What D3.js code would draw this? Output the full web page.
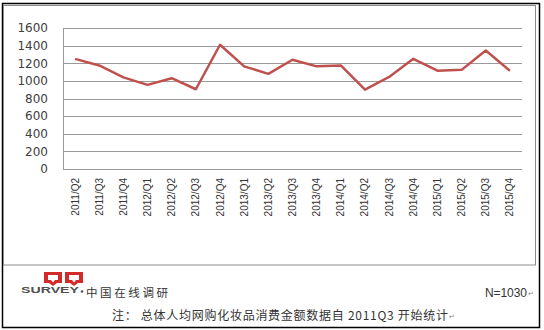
<!DOCTYPE html>
<html>
<head>
<meta charset="utf-8">
<script src="https://cdn.jsdelivr.net/npm/d3@7"></script>
<style>
  body { margin: 0; background: #fff; }
  svg { display: block; }
</style>
</head>
<body>
<svg id="chart" width="544" height="330"></svg>
<script>
var quarters = ["2011/Q2", "2011/Q3", "2011/Q4", "2012/Q1", "2012/Q2", "2012/Q3", "2012/Q4",
  "2013/Q1", "2013/Q2", "2013/Q3", "2013/Q4", "2014/Q1", "2014/Q2", "2014/Q3", "2014/Q4",
  "2015/Q1", "2015/Q2", "2015/Q3", "2015/Q4"];
var spending = [1250, 1175, 1040, 955, 1030, 905, 1410, 1165, 1080, 1240, 1165, 1175, 900, 1045,
  1250, 1115, 1125, 1345, 1115];
var yTicks = [0, 200, 400, 600, 800, 1000, 1200, 1400, 1600];

var svg = d3.select("#chart");

var margin = { top: 28, right: 22, bottom: 161, left: 63 },
  width = 544 - margin.left - margin.right,
  height = 330 - margin.top - margin.bottom;

// outer frame + inner chart box
svg.append("rect")
  .attr("x", 2.5).attr("y", 3.5)
  .attr("width", 537).attr("height", 324)
  .style("fill", "none").style("stroke", "#000").style("stroke-width", 1.5);

svg.append("rect")
  .attr("x", 3.5).attr("y", 5.5)
  .attr("width", 532).attr("height", 259.5)
  .style("fill", "none").style("stroke", "#8c8c8c").style("stroke-width", 1);

var g = svg.append("g")
  .attr("transform", "translate(" + margin.left + "," + margin.top + ")");

var x = d3.scaleBand()
  .domain(quarters)
  .range([0, width]);

var y = d3.scaleLinear()
  .domain([0, 1600])
  .range([height, 0]);

// gridlines
g.append("g")
  .selectAll("line")
  .data(yTicks)
  .enter().append("line")
  .attr("x1", 0).attr("x2", width)
  .attr("y1", function(d) { return Math.round(y(d)) + 0.5; })
  .attr("y2", function(d) { return Math.round(y(d)) + 0.5; })
  .style("stroke", "#9a9a9a").style("stroke-width", 1);

g.append("line")
  .attr("x1", 0.5).attr("x2", 0.5)
  .attr("y1", y(1600)).attr("y2", height)
  .style("stroke", "#9a9a9a");

var yAxis = g.append("g")
  .call(d3.axisLeft(y).tickValues(yTicks).tickFormat(d3.format("d")).tickSize(0).tickPadding(15));
yAxis.select(".domain").remove();
yAxis.selectAll("text")
  .style("font-family", "'DejaVu Sans', sans-serif")
  .style("font-size", "12px")
  .style("fill", "#404040");

var xAxis = g.append("g")
  .attr("transform", "translate(0," + height + ")")
  .call(d3.axisBottom(x).tickSize(0));
xAxis.select(".domain").remove();
xAxis.selectAll("text")
  .attr("transform", "rotate(-90)")
  .attr("x", -9)
  .attr("y", 0)
  .attr("dy", "0.35em")
  .style("text-anchor", "end")
  .style("font-family", "'Liberation Sans Narrow', 'Liberation Sans', sans-serif")
  .style("font-size", "10px")
  .style("fill", "#333");

var line = d3.line()
  .x(function(d, i) { return x(quarters[i]) + x.bandwidth() / 2; })
  .y(function(d) { return y(d); });

g.append("path")
  .datum(spending)
  .attr("d", line)
  .style("fill", "none")
  .style("stroke", "#c0504d")
  .style("stroke-width", 2.5)
  .style("stroke-linejoin", "round");

// logo
var logo = svg.append("g").attr("transform", "translate(44,272)");
[0, 21].forEach(function(dx) {
  logo.append("rect")
    .attr("x", dx).attr("y", 0)
    .attr("width", 18).attr("height", 11)
    .style("fill", "#d42a2a");
  logo.append("rect")
    .attr("x", dx + 4).attr("y", 3)
    .attr("width", 10).attr("height", 5)
    .style("fill", "#fff");
  logo.append("path")
    .attr("d", "M" + (dx + 5) + ",11 L" + (dx + 13) + ",11 L" + (dx + 9) + ",14 Z")
    .style("fill", "#d42a2a");
  logo.append("path")
    .attr("d", "M" + (dx + 7) + ",8 L" + (dx + 11) + ",8 L" + (dx + 9) + ",10.5 Z")
    .style("fill", "#fff");
});

svg.append("text")
  .attr("x", 21).attr("y", 293)
  .attr("textLength", 58)
  .attr("lengthAdjust", "spacingAndGlyphs")
  .style("font-family", "'Liberation Sans', Arial, sans-serif")
  .style("font-weight", "bold")
  .style("font-size", "9.5px")
  .style("fill", "#505050")
  .text("SURVEY");

svg.append("circle")
  .attr("cx", 82).attr("cy", 291.5).attr("r", 1.3)
  .style("fill", "#505050");

svg.append("text")
  .attr("x", 86).attr("y", 297)
  .attr("textLength", 82)
  .style("font-family", "'Noto Sans CJK SC', sans-serif")
  .style("font-size", "11.5px")
  .style("fill", "#333")
  .text("中国在线调研");

svg.append("text")
  .attr("x", 485).attr("y", 297)
  .attr("textLength", 42)
  .style("font-family", "'Liberation Sans', Arial, sans-serif")
  .style("font-size", "12px")
  .style("fill", "#333")
  .text("N=1030");

svg.append("text")
  .attr("x", 528).attr("y", 296)
  .style("font-family", "'DejaVu Sans', sans-serif")
  .style("font-size", "7px")
  .style("fill", "#888")
  .text("↵");

svg.append("text")
  .attr("x", 112).attr("y", 320)
  .attr("textLength", 336)
  .style("font-family", "'Noto Sans CJK SC', sans-serif")
  .style("font-size", "12px")
  .style("fill", "#333")
  .text("注：  总体人均网购化妆品消费金额数据自 2011Q3 开始统计");

svg.append("text")
  .attr("x", 449).attr("y", 319)
  .style("font-family", "'DejaVu Sans', sans-serif")
  .style("font-size", "7px")
  .style("fill", "#888")
  .text("↵");
</script>
</body>
</html>
